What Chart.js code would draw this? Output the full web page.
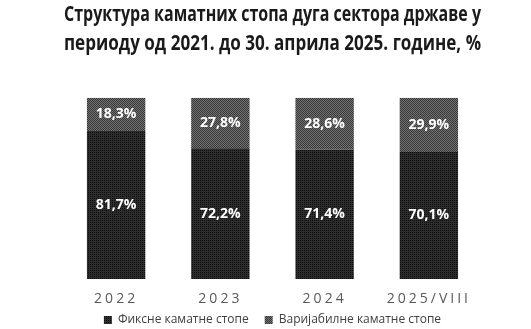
<!DOCTYPE html>
<html>
<head>
<meta charset="utf-8">
<script src="https://cdn.jsdelivr.net/npm/chart.js@4.4.1/dist/chart.umd.min.js"></script>
<style>
  html, body { margin: 0; padding: 0; background: #fff; }
  #wrap { width: 531px; height: 329px; }
</style>
</head>
<body>
<div id="wrap"><canvas id="chart"></canvas></div>
<script>
const years = ["2022", "2023", "2024", "2025/VIII"];
const fixedRates = [81.7, 72.2, 71.4, 70.1];
const variableRates = [18.3, 27.8, 28.6, 29.9];
const seriesNames = ["Фиксне каматне стопе", "Варијабилне каматне стопе"];
const titleLines = [
  "Структура каматних стопа дуга сектора државе у",
  "периоду од 2021. до 30. априла 2025. године, %"
];

// small pixel patterns to mimic the textured fills
function makePattern(cells, size) {
  const c = document.createElement("canvas");
  c.width = size; c.height = size;
  const g = c.getContext("2d");
  cells.forEach((col, i) => {
    g.fillStyle = col;
    g.fillRect(i % size, Math.floor(i / size), 1, 1);
  });
  return g.createPattern(c, "repeat");
}
const dark = makePattern(["#0c0c0c", "#2e2e2e", "#2e2e2e", "#2e2e2e"], 2);
const grey = makePattern(["#363636", "#747474", "#747474", "#363636"], 2);

// labels inside the bar segments
const segLabels = {
  id: "segLabels",
  afterDatasetsDraw(chart) {
    const ctx = chart.ctx;
    ctx.save();
    ctx.font = "bold 14px 'Open Sans'";
    ctx.fillStyle = "#fff";
    ctx.textAlign = "center";
    ctx.textBaseline = "middle";
    chart.data.datasets.forEach((ds, di) => {
      chart.getDatasetMeta(di).data.forEach((bar, i) => {
        const y = (bar.y + bar.base) / 2;
        ctx.fillText(ds.data[i].toFixed(1).replace(".", ",") + "%", bar.x, y);
      });
    });
    ctx.restore();
  }
};

// spaced-out year labels on the x axis (and no clipping to the shrunk axis box)
const spacedTicks = {
  id: "spacedTicks",
  beforeDraw(chart) {
    const sc = chart.scales.x;
    if (sc._spaced) return;
    const orig = sc.drawLabels;
    sc._computeLabelArea = () => undefined;
    sc.drawLabels = function (area) {
      const ctx = this.ctx;
      ctx.save();
      ctx.letterSpacing = "3px";
      orig.call(this, area);
      ctx.restore();
    };
    sc._spaced = true;
  }
};

new Chart(document.getElementById("chart"), {
  type: "bar",
  data: {
    labels: years,
    datasets: [
      { label: seriesNames[0], data: fixedRates, backgroundColor: dark,
        borderWidth: 0, barPercentage: 0.56, categoryPercentage: 1 },
      { label: seriesNames[1], data: variableRates, backgroundColor: grey,
        borderWidth: 0, barPercentage: 0.56, categoryPercentage: 1 }
    ]
  },
  options: {
    responsive: true,
    maintainAspectRatio: false,
    animation: false,
    layout: { padding: { left: 64, right: 50, top: 0, bottom: 0 } },
    scales: {
      x: {
        stacked: true,
        grid: { display: false, drawTicks: false },
        border: { display: false },
        ticks: { color: "#595959", font: { size: 14, family: "'Open Sans'" }, padding: 12 },
        afterFit(scale) { scale.height = 19; }
      },
      y: {
        stacked: true, display: false, min: 0, max: 100
      }
    },
    plugins: {
      title: {
        display: true,
        text: titleLines,
        color: "#1a1a1a",
        font: { size: 21, weight: "bold", family: "'Open Sans'", lineHeight: 1.4 },
        padding: { top: 0, bottom: 39 }
      },
      legend: {
        position: "bottom",
        maxHeight: 31,
        labels: {
          boxWidth: 8, boxHeight: 8, padding: 16,
          color: "#404040",
          font: { size: 12, family: "'Open Sans'" }
        }
      },
      tooltip: { enabled: false }
    }
  },
  plugins: [segLabels, spacedTicks]
});
</script>
</body>
</html>
